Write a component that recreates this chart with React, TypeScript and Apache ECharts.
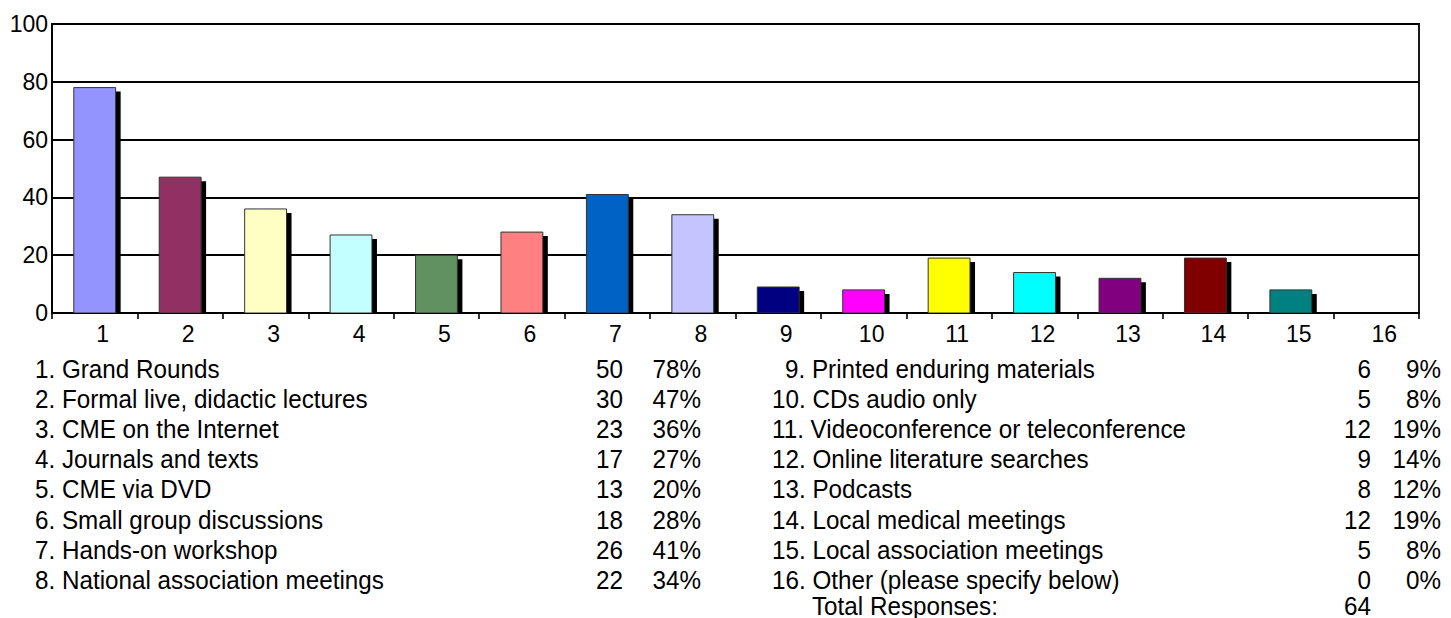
import React, { useEffect, useRef } from 'react';
import * as echarts from 'echarts';

const categories = ['1', '2', '3', '4', '5', '6', '7', '8', '9', '10', '11', '12', '13', '14', '15', '16'];
const itemNames = [
  'Grand Rounds',
  'Formal live, didactic lectures',
  'CME on the Internet',
  'Journals and texts',
  'CME via DVD',
  'Small group discussions',
  'Hands-on workshop',
  'National association meetings',
  'Printed enduring materials',
  'CDs audio only',
  'Videoconference or teleconference',
  'Online literature searches',
  'Podcasts',
  'Local medical meetings',
  'Local association meetings',
  'Other (please specify below)',
];
const counts = [50, 30, 23, 17, 13, 18, 26, 22, 6, 5, 12, 9, 8, 12, 5, 0];
const percents = [78, 47, 36, 27, 20, 28, 41, 34, 9, 8, 19, 14, 12, 19, 8, 0];
const barColors = [
  '#9494FF', '#913062', '#FFFFC4', '#C4FFFF', '#619161', '#FF8080', '#0062C4', '#C4C4FF',
  '#000080', '#FF00FF', '#FFFF00', '#00FFFF', '#800080', '#800000', '#008080', '#0000FF',
];
const yMin = 0;
const yMax = 100;
const yInterval = 20;
const totalLabel = 'Total Responses:';
const totalResponses = 64;

const TABLE_FONT = '"Liberation Sans", Arial, sans-serif';
const AXIS_FONT = '"Liberation Sans", Arial, sans-serif';

function buildTable() {
  const els: any[] = [];
  const rowY0 = 369;
  const rowH = 30.2;
  const fontSize = 25;
  const narrow = 0.97;
  const mk = (text: string, x: number, y: number, align: string) => ({
    type: 'text',
    x,
    y,
    scaleX: narrow,
    scaleY: 1,
    silent: true,
    style: {
      text,
      fontSize,
      fontFamily: TABLE_FONT,
      fill: '#000',
      align,
      verticalAlign: 'middle',
    },
  });
  for (let i = 0; i < itemNames.length; i++) {
    const col = i < 8 ? 0 : 1;
    const row = i % 8;
    const y = rowY0 + rowH * row;
    const label = `${i + 1}. ${itemNames[i]}`;
    if (col === 0) {
      els.push(mk(label, 35, y, 'left'));
      els.push(mk(String(counts[i]), 623, y, 'right'));
      els.push(mk(`${percents[i]}%`, 701, y, 'right'));
    } else {
      els.push(mk(label, i + 1 < 10 ? 785 : 772, y, 'left'));
      els.push(mk(String(counts[i]), 1371, y, 'right'));
      els.push(mk(`${percents[i]}%`, 1441, y, 'right'));
    }
  }
  const yTot = rowY0 + rowH * 8 - 4;
  els.push(mk(totalLabel, 812, yTot, 'left'));
  els.push(mk(String(totalResponses), 1371, yTot, 'right'));
  return els;
}

export default function App() {
  const ref = useRef<HTMLDivElement>(null);
  useEffect(() => {
    document.body.style.margin = '0';
    document.body.style.overflow = 'hidden';
    if (!ref.current) return;
    const chart = echarts.init(ref.current, undefined, { renderer: 'svg' });
    const option: any = {
      animation: false,
      backgroundColor: '#fff',
      grid: {
        left: 52,
        right: 32,
        top: 24,
        bottom: 305,
        show: true,
        borderColor: '#000',
        borderWidth: 1.8,
        backgroundColor: 'transparent',
        containLabel: false,
      },
      xAxis: {
        type: 'category',
        data: categories,
        boundaryGap: true,
        axisLine: { show: true, lineStyle: { color: '#000', width: 1.8 } },
        axisTick: { show: true, inside: false, length: 6, lineStyle: { color: '#000', width: 1.6 } },
        axisLabel: {
          show: true,
          color: '#000',
          fontSize: 23,
          fontFamily: AXIS_FONT,
          margin: 9,
          padding: [0, 0, 0, 16],
          interval: 0,
        },
        splitLine: { show: false },
      },
      yAxis: {
        type: 'value',
        min: yMin,
        max: yMax,
        interval: yInterval,
        axisLine: { show: true, lineStyle: { color: '#000', width: 1.8 } },
        axisTick: { show: false },
        axisLabel: {
          color: '#000',
          fontSize: 23,
          fontFamily: AXIS_FONT,
          margin: 4,
        },
        splitLine: { show: true, lineStyle: { color: '#000', width: 1.8 } },
      },
      series: [
        {
          type: 'custom',
          data: percents.map((v, i) => [i, v]),
          clip: true,
          renderItem: (params: any, api: any) => {
            const idx = api.value(0);
            const val = api.value(1);
            if (!val) return { type: 'group', children: [] };
            const top = api.coord([idx, val]);
            const base = api.coord([idx, 0]);
            const w = api.size([1, 0])[0] * 0.49;
            const x = top[0] - w / 2;
            const h = base[1] - top[1];
            const sx = 5;
            const sy = 4;
            return {
              type: 'group',
              children: [
                {
                  type: 'rect',
                  shape: { x: x + sx, y: top[1] + sy, width: w, height: Math.max(h - sy, 0) },
                  style: { fill: '#000' },
                },
                {
                  type: 'rect',
                  shape: { x, y: top[1], width: w, height: h },
                  style: { fill: barColors[idx], stroke: '#333', lineWidth: 1 },
                },
              ],
            };
          },
        },
      ],
      graphic: buildTable(),
    };
    chart.setOption(option);
    return () => {
      chart.dispose();
    };
  }, []);
  return <div ref={ref} style={{ width: 1451, height: 618 }} />;
}
